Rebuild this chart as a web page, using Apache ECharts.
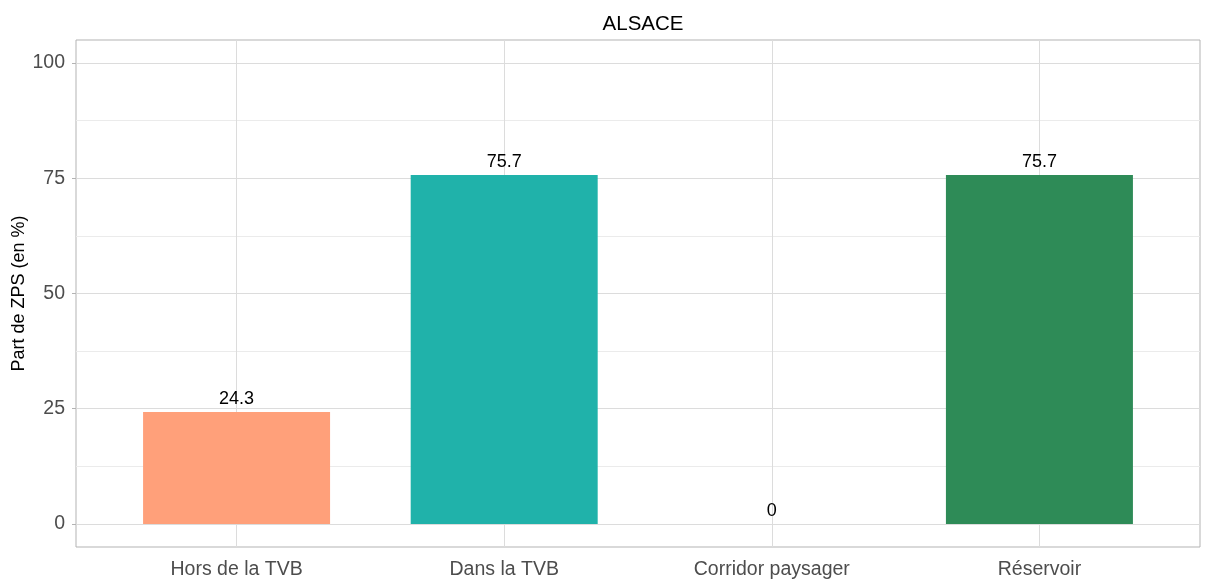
<!DOCTYPE html>
<html>
<head>
<meta charset="utf-8">
<script src="https://cdn.jsdelivr.net/npm/echarts@6/dist/echarts.min.js"></script>
<style>
html,body{margin:0;padding:0;background:#fff;}
#chart{width:1208px;height:584px;}
</style>
</head>
<body>
<div id="chart"></div>
<script>
const title = 'ALSACE';
const categories = ['Hors de la TVB', 'Dans la TVB', 'Corridor paysager', 'Réservoir'];
const values = [24.3, 75.7, 0, 75.7];
const colors = ['#FFA07A', '#20B2AA', '#20B2AA', '#2E8B57'];
const yMajorTicks = [0, 25, 50, 75, 100];
const yMinorTicks = [12.5, 37.5, 62.5, 87.5];
const yName = 'Part de ZPS (en %)';

const catPos = categories.map((c, i) => i + 1);
const font = '"Liberation Sans", Arial, Helvetica, sans-serif';

const chart = echarts.init(document.getElementById('chart'), null, {renderer: 'canvas'});

const gridLines = [];
yMinorTicks.forEach(v => gridLines.push({yAxis: v, lineStyle: {color: '#ebebeb', width: 1, type: 'solid'}}));
yMajorTicks.forEach(v => gridLines.push({yAxis: v, lineStyle: {color: '#dcdcdc', width: 1, type: 'solid'}}));
catPos.forEach(v => gridLines.push({xAxis: v, lineStyle: {color: '#dcdcdc', width: 1, type: 'solid'}}));

chart.setOption({
  animation: false,
  backgroundColor: '#ffffff',
  title: {
    text: title, left: 638, top: 9, textAlign: 'center',
    textStyle: {fontFamily: font, fontSize: 20.5, fontWeight: 'normal', color: '#000'}
  },
  grid: {
    left: 76, right: 8, top: 40, bottom: 37,
    outerBoundsMode: 'none', containLabel: false,
    show: true, borderColor: '#b3b3b3', borderWidth: 1, backgroundColor: '#fff'
  },
  xAxis: {
    type: 'value', min: 0.4, max: 4.6,
    axisLine: {show: false},
    splitLine: {show: false},
    axisTick: {show: true, customValues: catPos, length: 4, lineStyle: {color: '#b3b3b3'}},
    axisLabel: {
      customValues: catPos, margin: 13,
      formatter: v => categories[Math.round(v) - 1] || '',
      fontFamily: font, fontSize: 19.5, color: '#4d4d4d'
    }
  },
  yAxis: {
    type: 'value', min: -5, max: 105,
    name: yName, nameLocation: 'middle', nameGap: 48, nameMoveOverlap: false,
    nameTextStyle: {fontFamily: font, fontSize: 18, color: '#000'},
    axisLine: {show: false},
    splitLine: {show: false},
    axisTick: {show: true, customValues: yMajorTicks, length: 4, lineStyle: {color: '#b3b3b3'}},
    axisLabel: {
      customValues: yMajorTicks, margin: 11,
      fontFamily: font, fontSize: 19.5, color: '#4d4d4d'
    }
  },
  series: [{
    type: 'bar',
    barWidth: 187,
    data: values.map((v, i) => ({value: [catPos[i], v], itemStyle: {color: colors[i]}})),
    label: {
      show: true, position: 'top', distance: 4,
      formatter: p => String(p.value[1]),
      fontFamily: font, fontSize: 18, color: '#000'
    },
    markLine: {
      silent: true, symbol: 'none', z: 1,
      label: {show: false},
      emphasis: {disabled: true},
      data: gridLines
    }
  }]
});
</script>
</body>
</html>
